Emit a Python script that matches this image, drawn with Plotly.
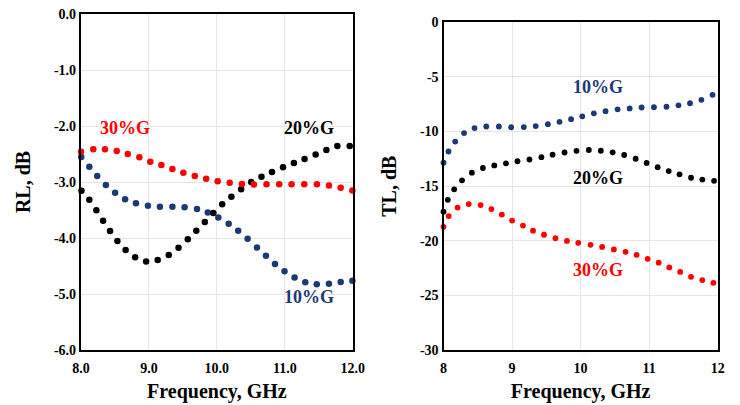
import plotly.graph_objects as go

# ---------------- Left panel: RL (dB) ----------------
rl_10_x = [8.004, 8.123, 8.239, 8.366, 8.502, 8.649, 8.809, 8.985, 9.162, 9.346, 9.525, 9.708, 9.867,
           10.022, 10.174, 10.314, 10.453, 10.590, 10.723, 10.856, 10.996, 11.144, 11.302, 11.471,
           11.650, 11.823, 11.995]
rl_10_y = [-2.554, -2.727, -2.893, -3.054, -3.193, -3.307, -3.380, -3.423, -3.441, -3.441, -3.452, -3.482,
           -3.545, -3.634, -3.745, -3.871, -4.014, -4.170, -4.318, -4.464, -4.593, -4.705, -4.789, -4.827,
           -4.818, -4.786, -4.763]

rl_20_x = [8.007, 8.123, 8.226, 8.325, 8.428, 8.536, 8.657, 8.797, 8.959, 9.129, 9.292, 9.436, 9.572,
           9.697, 9.823, 9.948, 10.078, 10.214, 10.357, 10.505, 10.657, 10.812, 10.974, 11.134, 11.291,
           11.454, 11.612, 11.774, 11.956]
rl_20_y = [-3.155, -3.316, -3.505, -3.691, -3.875, -4.054, -4.214, -4.345, -4.420, -4.393, -4.304, -4.173,
           -4.023, -3.870, -3.714, -3.554, -3.398, -3.263, -3.129, -3.000, -2.905, -2.821, -2.738, -2.661,
           -2.589, -2.509, -2.429, -2.357, -2.357]

rl_30_x = [8.0, 8.181, 8.353, 8.526, 8.688, 8.859, 9.020, 9.183, 9.345, 9.507, 9.675, 9.842, 10.012,
           10.189, 10.369, 10.545, 10.731, 10.918, 11.100, 11.287, 11.473, 11.650, 11.823, 11.995]
rl_30_y = [-2.459, -2.416, -2.416, -2.446, -2.500, -2.559, -2.638, -2.696, -2.768, -2.834, -2.893, -2.941,
           -2.986, -3.013, -3.036, -3.045, -3.041, -3.041, -3.041, -3.041, -3.041, -3.063, -3.102, -3.152]

# ---------------- Right panel: TL (dB) ----------------
tl_10_x = [8.0, 8.073, 8.171, 8.300, 8.453, 8.624, 8.808, 8.987, 9.172, 9.345, 9.523, 9.692, 9.861,
           10.025, 10.193, 10.364, 10.540, 10.716, 10.890, 11.070, 11.253, 11.428, 11.596, 11.762, 11.925]
tl_10_y = [-12.86, -11.83, -10.92, -10.14, -9.68, -9.54, -9.54, -9.61, -9.59, -9.50, -9.33, -9.11, -8.87,
           -8.61, -8.33, -8.14, -7.97, -7.88, -7.80, -7.77, -7.73, -7.60, -7.41, -7.10, -6.64]

tl_20_x = [8.0, 8.063, 8.156, 8.270, 8.414, 8.575, 8.741, 8.911, 9.079, 9.254, 9.428, 9.591, 9.766,
           9.940, 10.120, 10.295, 10.468, 10.636, 10.803, 10.963, 11.124, 11.285, 11.443, 11.611,
           11.776, 11.947]
tl_20_y = [-17.34, -16.25, -15.29, -14.47, -13.77, -13.34, -13.10, -12.91, -12.72, -12.56, -12.35, -12.12,
           -11.92, -11.77, -11.69, -11.76, -11.90, -12.15, -12.49, -12.87, -13.27, -13.62, -13.92, -14.23,
           -14.40, -14.51]

tl_30_x = [8.0, 8.076, 8.205, 8.368, 8.541, 8.699, 8.851, 9.001, 9.159, 9.306, 9.466, 9.633, 9.801,
           9.966, 10.145, 10.314, 10.485, 10.656, 10.817, 10.978, 11.139, 11.294, 11.453, 11.611, 11.775,
           11.937]
tl_30_y = [-18.72, -17.74, -16.96, -16.64, -16.73, -17.10, -17.60, -18.15, -18.61, -19.08, -19.45, -19.77,
           -20.01, -20.19, -20.37, -20.56, -20.79, -21.01, -21.29, -21.65, -22.01, -22.44, -22.85, -23.30,
           -23.60, -23.85]

series_names = ["10%G", "20%G", "30%G"]
colors = ["#1B3A73", "#000000", "#FF0000"]

rl_xticks = [8, 9, 10, 11, 12]
rl_xticklabels = ["8.0", "9.0", "10.0", "11.0", "12.0"]
rl_yticks = [0, -1, -2, -3, -4, -5, -6]
rl_yticklabels = ["0.0", "-1.0", "-2.0", "-3.0", "-4.0", "-5.0", "-6.0"]
tl_xticks = [8, 9, 10, 11, 12]
tl_xticklabels = ["8", "9", "10", "11", "12"]
tl_yticks = [0, -5, -10, -15, -20, -25, -30]
tl_yticklabels = ["0", "-5", "-10", "-15", "-20", "-25", "-30"]

FONT = "Liberation Serif"

fig = go.Figure()

left = [(rl_10_x, rl_10_y), (rl_20_x, rl_20_y), (rl_30_x, rl_30_y)]
right = [(tl_10_x, tl_10_y), (tl_20_x, tl_20_y), (tl_30_x, tl_30_y)]

for (xs, ys), name, c in zip(left, series_names, colors):
    fig.add_trace(go.Scatter(x=xs, y=ys, mode="markers", name=name,
                             marker=dict(color=c, size=6.5), xaxis="x", yaxis="y",
                             showlegend=False, cliponaxis=False))
for (xs, ys), name, c in zip(right, series_names, colors):
    fig.add_trace(go.Scatter(x=xs, y=ys, mode="markers", name=name,
                             marker=dict(color=c, size=5.8), xaxis="x2", yaxis="y2",
                             showlegend=False, cliponaxis=False))

W, H = 740, 405
OFF = 8  # page body margin
def px_x(p): return (p - OFF) / W
def px_y(p): return 1 - (p - OFF) / H

axis_common = dict(showgrid=True, gridcolor="#E6E6E6", gridwidth=1, zeroline=False,
                   showline=True, linecolor="black", linewidth=2.2, mirror=True, ticks="",
                   automargin=False, ticklabeloverflow="allow",
                   tickfont=dict(family=FONT, size=14, color="black", weight="bold"))

title_font = dict(family=FONT, size=20, color="black", weight="bold")

fig.update_layout(
    width=W, height=H,
    margin=dict(l=0, r=0, t=0, b=0),
    paper_bgcolor="white", plot_bgcolor="white",
    xaxis=dict(domain=[px_x(81), px_x(352.7)], range=[8, 12], tickvals=rl_xticks,
               ticktext=rl_xticklabels, anchor="y", ticklabelstandoff=4,
               title=dict(text="Frequency, GHz", font=title_font, standoff=9), **axis_common),
    yaxis=dict(domain=[px_y(350), px_y(14)], range=[-6, 0], tickvals=rl_yticks,
               ticktext=rl_yticklabels, anchor="x",
               title=dict(text="RL, dB", font=title_font, standoff=18), **axis_common),
    xaxis2=dict(domain=[px_x(443.5), px_x(717.7)], range=[8, 12], tickvals=tl_xticks,
                ticktext=tl_xticklabels, anchor="y2", ticklabelstandoff=4,
                title=dict(text="Frequency, GHz", font=title_font, standoff=9), **axis_common),
    yaxis2=dict(domain=[px_y(350), px_y(22.3)], range=[-30, 0], tickvals=tl_yticks,
                ticktext=tl_yticklabels, anchor="x2",
                title=dict(text="TL, dB", font=title_font, standoff=18), **axis_common),
)

lab_font = lambda c: dict(family=FONT, size=18, color=c, weight="bold")
labels = [
    ("x", "y", 8.65, -2.03, "30%G", colors[2]),
    ("x", "y", 11.35, -2.04, "20%G", colors[1]),
    ("x", "y", 11.35, -5.05, "10%G", colors[0]),
    ("x2", "y2", 10.25, -5.95, "10%G", colors[0]),
    ("x2", "y2", 10.25, -14.3, "20%G", colors[1]),
    ("x2", "y2", 10.25, -22.7, "30%G", colors[2]),
]
for xr, yr, x, y, t, c in labels:
    fig.add_annotation(xref=xr, yref=yr, x=x, y=y, text=t, showarrow=False, font=lab_font(c))

fig.write_html("out.html")
